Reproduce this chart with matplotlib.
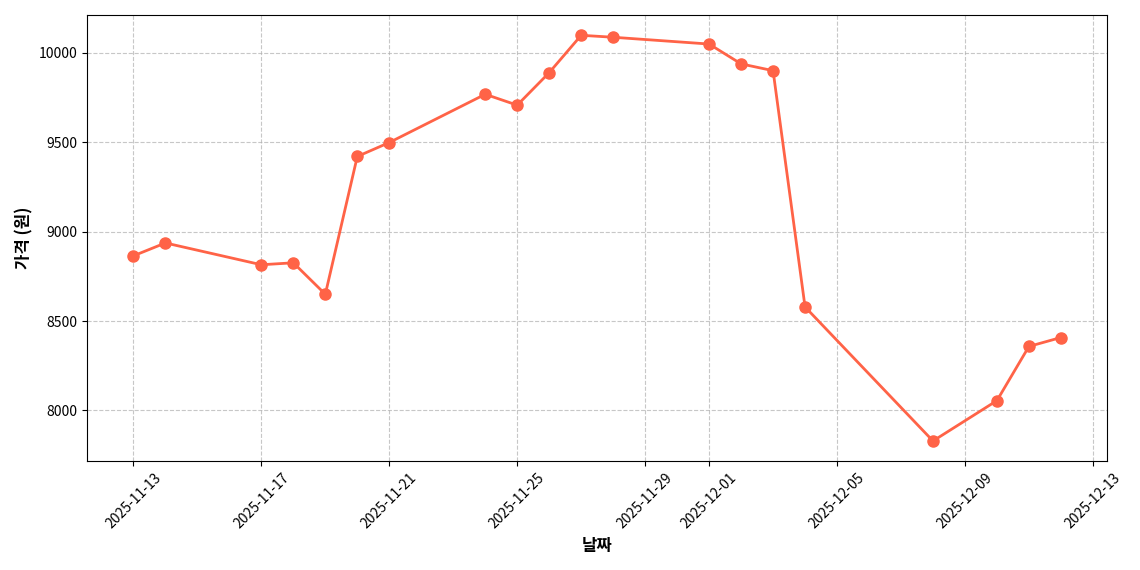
import pandas as pd
import matplotlib
matplotlib.use("Agg")
import matplotlib.pyplot as plt
import matplotlib.dates as mdates

plt.rcParams['font.family'] = ['Noto Sans CJK KR', 'DejaVu Sans']
plt.rcParams['axes.unicode_minus'] = False

dates = ["2025-11-13", "2025-11-14", "2025-11-17", "2025-11-18", "2025-11-19",
         "2025-11-20", "2025-11-21", "2025-11-24", "2025-11-25", "2025-11-26",
         "2025-11-27", "2025-11-28", "2025-12-01", "2025-12-02", "2025-12-03",
         "2025-12-04", "2025-12-08", "2025-12-10", "2025-12-11", "2025-12-12"]
prices = [8865, 8937, 8815, 8826, 8650, 9421, 9499, 9769, 9708, 9890,
          10099, 10088, 10050, 9939, 9901, 8579, 7829, 8055, 8358, 8408]

x = pd.to_datetime(dates)

fig, ax = plt.subplots(figsize=(11.4, 5.7), dpi=100)
ax.plot(x, prices, color="#FF6347", marker="o", markersize=8, linewidth=2)
ax.set_xlabel("날짜", fontsize=12, fontweight="bold")
ax.set_ylabel("가격 (원)", fontsize=12, fontweight="bold")
ax.grid(True, linestyle="--", alpha=0.7)
ax.xaxis.set_major_locator(mdates.DayLocator(bymonthday=range(1, 32, 4)))
ax.xaxis.set_major_formatter(mdates.DateFormatter("%Y-%m-%d"))
plt.setp(ax.get_xticklabels(), rotation=45)
plt.tight_layout()
plt.savefig("out.png")
